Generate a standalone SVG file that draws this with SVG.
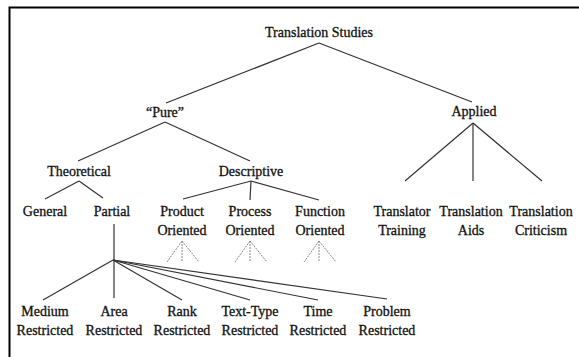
<svg xmlns="http://www.w3.org/2000/svg" width="579" height="357" viewBox="0 0 579 357">
<style>
text{font-family:"Liberation Serif","Times New Roman",serif;font-size:14px;fill:#111;stroke:#111;stroke-width:0.3;text-anchor:middle}
.c line{stroke:#333;stroke-width:1.2;fill:none}
.f line{stroke:#888;stroke-width:1;stroke-dasharray:2 1}
.b{stroke:#000;stroke-width:2;fill:none}
</style>
<rect width="579" height="357" fill="#fff"/>
<path class="b" d="M579,7.5 H9.5 V357"/>
<g id="connectors" class="c">
<line x1="319" y1="43" x2="166" y2="103"/>
<line x1="319" y1="43" x2="472" y2="102"/>
<line x1="165" y1="122" x2="78" y2="161"/>
<line x1="165" y1="122" x2="250" y2="161"/>
<line x1="473" y1="123" x2="405" y2="181"/>
<line x1="473" y1="123" x2="473" y2="181"/>
<line x1="473" y1="123" x2="542" y2="181"/>
<line x1="79" y1="181" x2="45" y2="199"/>
<line x1="79" y1="181" x2="103" y2="198"/>
<line x1="251" y1="181" x2="183" y2="199"/>
<line x1="251" y1="181" x2="250" y2="200"/>
<line x1="251" y1="181" x2="319" y2="200"/>
<line x1="114" y1="224" x2="114" y2="298"/>
<line x1="113" y1="260" x2="43" y2="300"/>
<line x1="113" y1="260" x2="182" y2="300"/>
<line x1="113" y1="260" x2="250" y2="300"/>
<line x1="113" y1="260" x2="318" y2="300"/>
<line x1="113" y1="260" x2="387" y2="299"/>
</g>
<g id="fans" class="f">
<line x1="182" y1="241" x2="167" y2="262"/><line x1="182" y1="241" x2="182" y2="262"/><line x1="182" y1="241" x2="199" y2="262"/>
<line x1="250" y1="241" x2="235" y2="262"/><line x1="250" y1="241" x2="250" y2="262"/><line x1="250" y1="241" x2="267" y2="262"/>
<line x1="319" y1="241" x2="304" y2="262"/><line x1="319" y1="241" x2="319" y2="262"/><line x1="319" y1="241" x2="336" y2="262"/>
</g>
<g id="translation-studies"><text x="319" y="37">Translation Studies</text></g>
<g id="pure"><text x="165" y="117">“Pure”</text></g>
<g id="applied"><text x="474" y="116">Applied</text></g>
<g id="theoretical"><text x="79" y="176">Theoretical</text></g>
<g id="descriptive"><text x="251" y="176">Descriptive</text></g>
<g id="general"><text x="45" y="216">General</text></g>
<g id="partial"><text x="112" y="216">Partial</text></g>
<g id="product-oriented"><text x="182" y="216">Product</text><text x="182" y="235">Oriented</text></g>
<g id="process-oriented"><text x="250" y="216">Process</text><text x="250" y="235">Oriented</text></g>
<g id="function-oriented"><text x="320" y="216">Function</text><text x="320" y="235">Oriented</text></g>
<g id="translator-training"><text x="402" y="216">Translator</text><text x="402" y="235">Training</text></g>
<g id="translation-aids"><text x="471" y="216">Translation</text><text x="471" y="235">Aids</text></g>
<g id="translation-criticism"><text x="541" y="216">Translation</text><text x="541" y="235">Criticism</text></g>
<g id="medium-restricted"><text x="45" y="316">Medium</text><text x="45" y="335">Restricted</text></g>
<g id="area-restricted"><text x="114" y="316">Area</text><text x="114" y="335">Restricted</text></g>
<g id="rank-restricted"><text x="182" y="316">Rank</text><text x="182" y="335">Restricted</text></g>
<g id="text-type-restricted"><text x="250" y="316">Text-Type</text><text x="250" y="335">Restricted</text></g>
<g id="time-restricted"><text x="318" y="316">Time</text><text x="318" y="335">Restricted</text></g>
<g id="problem-restricted"><text x="387" y="316">Problem</text><text x="387" y="335">Restricted</text></g>
</svg>
